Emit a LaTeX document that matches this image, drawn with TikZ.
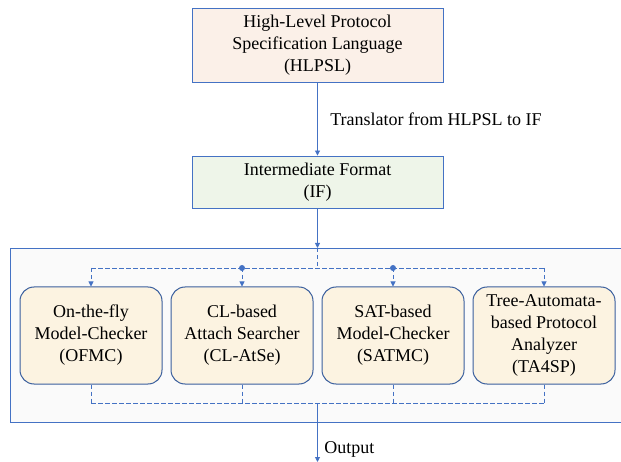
\documentclass[tikz,border=0pt]{standalone}
\usepackage{fontspec}
\setmainfont{Liberation Serif}
\usepackage{tikz}
\usetikzlibrary{arrows.meta,positioning,calc}

\definecolor{lineblue}{HTML}{4472C4}
\definecolor{edgeblue}{HTML}{3A5F9E}
\definecolor{peach}{HTML}{FBF0E8}
\definecolor{mint}{HTML}{EEF5E9}
\definecolor{cream}{HTML}{FCF3E1}
\definecolor{panel}{HTML}{FAFAFA}

\tikzset{
    lang/.style={rectangle, draw=lineblue, line width=0.9pt, minimum width=251pt, align=center, font=\fontsize{18}{22}\selectfont},
    checker/.style={rectangle, draw=edgeblue, line width=1pt, fill=cream, rounded corners=14pt, minimum width=142pt, minimum height=97pt, align=center, font=\fontsize{18}{22}\selectfont},
    flow/.style={draw=lineblue, line width=0.9pt, -{Triangle[width=5pt,length=5pt]}},
    branch/.style={draw=lineblue, line width=0.9pt, dash pattern=on 4.5pt off 2.5pt},
}

\begin{document}
\begin{tikzpicture}[x=1pt, y=-1pt]
    \useasboundingbox (0,0) rectangle (621,462);

    % Languages
    \node (hlpsl) [lang, fill=peach, minimum height=74pt] at (317.5,45) {High-Level Protocol \\ Specification Language \\ (HLPSL)};
    \node (if) [lang, fill=mint, minimum height=52pt] at (317.5,182) {Intermediate Format \\ (IF)};

    % Back-end panel
    \fill[panel] (10,248) rectangle (621,422);
    \draw[lineblue, line width=0.9pt] (621,248) -- (10,248) -- (10,422) -- (621,422);

    % Back-ends
    \node (m1) [checker] at (91,335.5) {On-the-fly \\ Model-Checker \\ (OFMC)};
    \node (m2) [checker, right=8pt of m1] {CL-based \\ Attach Searcher \\ (CL-AtSe)};
    \node (m3) [checker, right=8pt of m2] {SAT-based \\ Model-Checker \\ (SATMC)};
    \node (m4) [checker, right=8pt of m3] {Tree-Automata- \\ based Protocol \\ Analyzer \\ (TA4SP)};

    \coordinate (in) at (317.5,248);
    \coordinate (split) at (317.5,268);
    \coordinate (join) at (317.5,403);
    \coordinate (out) at (317.5,462);

    % Arrows
    \draw [flow] (hlpsl) -- node[right=9pt, font=\fontsize{18}{22}\selectfont] {Translator from HLPSL to IF} (if);
    \draw [flow] (if) -- (in);
    \draw [branch] (in) -- (split);
    \draw [branch] (m1.north |- split) -- (m4.north |- split);
    \foreach \m in {m1,m2,m3,m4}
        \draw [branch, -{Triangle[width=5pt,length=5pt]}] (\m.north |- split) -- (\m.north);
    \foreach \m in {m2,m3}
        \fill [lineblue] (\m.north |- split) circle (3pt);
    \draw [branch] (m1.south |- join) -- (m4.south |- join);
    \foreach \m in {m1,m2,m3,m4}
        \draw [branch] (\m.south) -- (\m.south |- join);
    \draw [flow] (join) -- node[right=3pt, pos=0.78, font=\fontsize{18}{22}\selectfont] {Output} (out);
\end{tikzpicture}
\end{document}
